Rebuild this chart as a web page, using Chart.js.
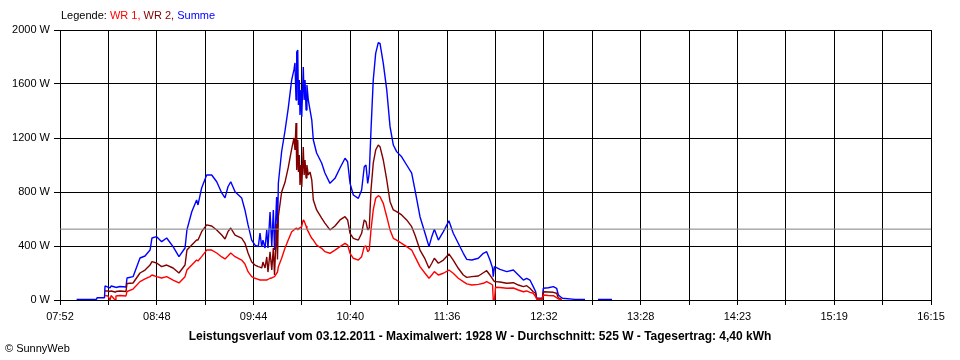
<!DOCTYPE html>
<html>
<head>
<meta charset="utf-8">
<script src="https://cdn.jsdelivr.net/npm/chart.js@4/dist/chart.umd.min.js"></script>
<style>
  html, body { margin: 0; padding: 0; background: #fff; }
  #wrap { position: relative; width: 960px; height: 360px; font-family: "Liberation Sans", Arial, sans-serif; font-size: 11px; color: #000; }
  #c { position: absolute; left: 0; top: 0; }
  .txt { position: absolute; line-height: 13px; white-space: nowrap; }
  #legend { left: 61px; top: 9px; }
  #title { left: 0; width: 960px; top: 330px; text-align: center; font-weight: bold; font-size: 12px; }
  #copy { left: 5px; top: 342px; }
</style>
</head>
<body>
<div id="wrap">
  <canvas id="c" width="960" height="360"></canvas>
  <div id="legend" class="txt">Legende: <span style="color:#ff0000">WR 1, </span><span style="color:#800000">WR 2, </span><span style="color:#0000ff">Summe</span></div>
  <div id="title" class="txt">Leistungsverlauf vom 03.12.2011 - Maximalwert: 1928 W - Durchschnitt: 525 W - Tagesertrag: 4,40 kWh</div>
  <div id="copy" class="txt">© SunnyWeb</div>
</div>
<script>
// Time axis tick labels (every second gridline is labelled)
const tickLabels = ['07:52','08:48','09:44','10:40','11:36','12:32','13:28','14:23','15:19','16:15'];
const axisStartMin = 472;   // 07:52
const axisEndMin = 975;     // 16:15
const gridDivisions = 18;

// Sample times in minutes after midnight
const timeMinutes = [
481.6,493.1,493.4,497.7,498.0,499.7,500.9,501.5,503.8,504.3,
506.6,510.1,510.7,514.2,518.2,521.1,524.0,525.1,527.8,530.7,
533.6,537.3,540.7,544.2,545.3,548.1,550.9,551.7,553.8,556.7,
559.6,562.5,565.4,567.3,569.0,570.6,573.1,576.9,578.8,580.6,
582.7,584.6,586.5,587.5,588.5,589.2,590.4,591.4,592.1,593.3,
594.3,595.2,595.9,597.1,597.6,598.1,600.0,601.9,603.8,605.8,
607.1,607.7,608.3,608.7,609.3,609.7,610.2,610.6,611.2,611.6,
612.0,612.5,613.0,613.5,614.1,614.6,615.4,616.4,617.4,618.3,
620.2,623.1,625.0,627.9,630.8,633.7,636.6,638.1,639.5,641.4,
644.3,646.2,647.7,648.7,649.7,650.6,651.6,652.9,654.3,655.8,
656.8,658.7,660.7,662.6,664.5,666.4,669.3,672.2,675.1,677.0,
679.9,682.8,685.1,686.7,688.2,690.5,693.4,696.6,699.1,702.0,
704.9,706.9,709.8,713.6,716.5,718.4,720.3,721.8,722.2,722.9,
723.5,726.1,730.0,733.8,736.7,739.6,741.5,743.4,745.3,746.7,
747.3,750.6,751.1,754.0,756.9,758.8,759.8,761.7,762.2,769.4,
775.2,775.8,782.7,790.8
];

// WR 1 (red), W
const wr1 = [
null,null,null,null,33,30,0,33,0,30,
33,30,63,81,136,156,173,185,173,163,
173,148,126,173,222,259,296,289,321,370,
370,348,319,304,326,348,321,296,267,210,
173,161,153,148,148,148,148,148,152,161,
163,170,173,198,207,247,309,383,444,506,
519,526,531,533,519,526,533,533,541,548,
570,593,585,568,548,526,506,481,457,444,
407,383,358,346,370,395,420,407,346,309,
296,321,395,400,358,370,519,667,753,773,
765,716,617,519,457,444,420,395,370,321,
247,198,161,185,210,185,198,222,198,161,
136,119,111,116,124,136,124,111,0,0,
94,93,87,89,74,61,67,57,50,24,
7,7,37,33,32,17,7,5,null,null,
null,null,null,null
];

// WR 2 (dark red), W
const wr2 = [
null,null,null,null,67,67,63,67,59,63,
67,63,122,126,200,222,259,284,274,247,
259,237,200,259,370,407,444,444,506,556,
548,519,481,452,506,533,481,459,422,348,
281,259,247,244,237,281,237,319,207,356,
222,385,185,565,300,620,800,870,980,1120,
1200,1111,1311,963,1185,948,1074,852,1000,837,
963,1133,926,1037,904,1000,926,948,889,741,
667,607,570,519,548,593,617,593,494,457,
444,494,593,580,519,533,815,1013,1111,1148,
1136,1037,889,728,667,654,630,593,543,481,
370,304,235,272,309,272,296,341,296,235,
185,168,173,178,202,217,185,156,148,136,
136,133,124,128,111,99,106,87,61,50,
7,7,61,59,57,50,15,5,null,null,
null,null,null,null
];

// Summe (blue), W
const summe = [
5,5,17,17,104,96,89,104,96,93,
100,96,163,173,311,326,370,459,469,432,
459,395,321,385,519,654,741,704,830,926,
926,876,793,756,839,876,802,756,667,556,
444,407,395,496,393,444,385,519,385,652,
400,667,370,763,504,867,1100,1250,1420,1630,
1704,1756,1481,1837,1852,1444,1630,1370,1556,1356,
1519,1726,1481,1630,1407,1593,1481,1407,1333,1185,
1089,1015,941,864,901,978,1050,1024,864,778,
753,815,987,1000,864,939,1259,1630,1827,1906,
1901,1753,1556,1284,1148,1099,1061,1000,939,815,
617,494,395,469,524,444,506,587,494,420,
346,301,296,309,346,358,296,237,173,247,
244,227,210,222,185,148,161,148,99,61,
13,13,87,91,99,87,37,17,13,5,
5,null,5,5
];

const average = 525; // Durchschnitt

const toPoints = (vals) => timeMinutes.map((t, i) => ({ x: t, y: vals[i] }));

const lineDs = (label, vals, color) => ({
  label, data: toPoints(vals), borderColor: color, backgroundColor: color,
  borderWidth: 1.4, pointRadius: 0, tension: 0, spanGaps: false, borderJoinStyle: 'bevel'
});

const gridTicks = [];
for (let i = 0; i <= gridDivisions; i++) {
  gridTicks.push(axisStartMin + i * (axisEndMin - axisStartMin) / gridDivisions);
}

Chart.defaults.font.family = '"Liberation Sans", Arial, sans-serif';
Chart.defaults.font.size = 11;
Chart.defaults.color = '#000';

new Chart(document.getElementById('c'), {
  type: 'line',
  data: {
    datasets: [
      { label: 'Durchschnitt', data: [{x: axisStartMin, y: average}, {x: axisEndMin, y: average}],
        borderColor: '#808080', borderWidth: 1, pointRadius: 0 },
      lineDs('WR 1', wr1, '#ff0000'),
      lineDs('WR 2', wr2, '#800000'),
      lineDs('Summe', summe, '#0000ff')
    ]
  },
  options: {
    responsive: false,
    animation: false,
    devicePixelRatio: 1,
    layout: { padding: { top: 30, right: 29, left: 0, bottom: 0 } },
    plugins: { legend: { display: false }, tooltip: { enabled: false }, title: { display: false } },
    scales: {
      x: {
        type: 'linear',
        min: axisStartMin,
        max: axisEndMin,
        afterBuildTicks: (scale) => { scale.ticks = gridTicks.map(v => ({ value: v })); },
        afterFit: (scale) => { scale.height = 60; },
        ticks: {
          autoSkip: false, maxRotation: 0, minRotation: 0, padding: 5,
          callback: (v, i) => (i % 2 === 0 ? tickLabels[i / 2] : '')
        },
        grid: { color: '#000', lineWidth: 1, tickLength: 5, drawTicks: true },
        border: { display: true, color: '#000', width: 1 }
      },
      y: {
        min: 0,
        max: 2000,
        afterFit: (scale) => { scale.width = 60; },
        ticks: { stepSize: 400, padding: 4, callback: (v) => v + ' W' },
        grid: { color: '#000', lineWidth: 1, tickLength: 6, drawTicks: true },
        border: { display: true, color: '#000', width: 1 }
      }
    }
  }
});
</script>
</body>
</html>
